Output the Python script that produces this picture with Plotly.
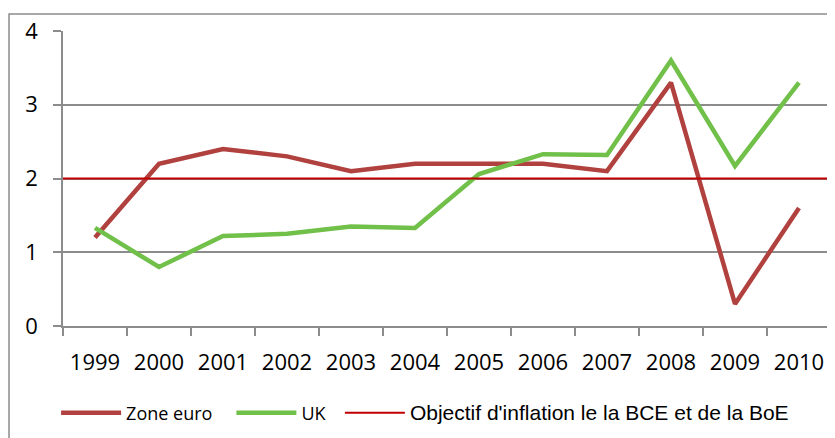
import plotly.graph_objects as go

years = ["1999", "2000", "2001", "2002", "2003", "2004", "2005", "2006", "2007", "2008", "2009", "2010"]
zone_euro = [1.2, 2.2, 2.4, 2.3, 2.1, 2.2, 2.2, 2.2, 2.1, 3.3, 0.3, 1.6]
uk = [1.33, 0.8, 1.22, 1.25, 1.35, 1.33, 2.06, 2.33, 2.32, 3.6, 2.17, 3.3]
target = 2
y_ticks = [0, 1, 2, 3, 4]

C_EURO = "#B0413E"
C_UK = "#70C04A"
C_TGT = "#C00000"
GRID = "#8C8C8C"

fig = go.Figure()
fig.add_trace(go.Scatter(x=years, y=zone_euro, mode="lines", name="Zone euro" + "\u00a0" * 3,
                         line=dict(color=C_EURO, width=4.5)))
fig.add_trace(go.Scatter(x=years, y=uk, mode="lines", name="UK" + "\u00a0" * 2,
                         line=dict(color=C_UK, width=4.5)))
fig.add_trace(go.Scatter(x=[None], y=[None], mode="lines",
                         name="<span style='font-family:Liberation Sans;font-size:21px'>Objectif d'inflation le la BCE et de la BoE</span>",
                         line=dict(color=C_TGT, width=2)))

fig.add_shape(type="line", xref="x domain", yref="y", x0=0, x1=1, y0=target, y1=target,
              line=dict(color=C_TGT, width=2), layer="above")
# outer chart border
fig.add_shape(type="rect", xref="paper", yref="paper", x0=-0.0703, x1=1.2, y0=-0.6, y1=1.0576,
              line=dict(color=GRID, width=1.5), layer="below")

fig.update_layout(
    width=835, height=438,
    margin=dict(l=55, r=12, t=23, b=120, autoexpand=False),
    paper_bgcolor="white", plot_bgcolor="white",
    font=dict(family="Open Sans", color="black"),
    showlegend=True,
    legend=dict(orientation="h", x=-0.009, y=-0.295, xanchor="left", yanchor="middle",
                font=dict(family="Open Sans", size=18), itemwidth=60, traceorder="normal"),
)
fig.update_xaxes(type="category", range=[-0.5, len(years) - 0.5], automargin=False,
                 showgrid=False, showline=True, linecolor=GRID, linewidth=1.5,
                 ticks="outside", tickson="boundaries", ticklen=8, tickcolor=GRID, tickwidth=1.5,
                 tickfont=dict(size=22, family="Open Sans"), ticklabelstandoff=16)
fig.update_yaxes(range=[0, 4], tickvals=y_ticks, automargin=False,
                 showgrid=True, gridcolor=GRID, gridwidth=1.5,
                 showline=True, linecolor=GRID, linewidth=1.5, ticks="outside", ticklen=8,
                 tickcolor=GRID, tickwidth=1.5, zeroline=False,
                 tickfont=dict(size=22, family="Open Sans"), ticklabelstandoff=11)

fig.write_html("out.html")
